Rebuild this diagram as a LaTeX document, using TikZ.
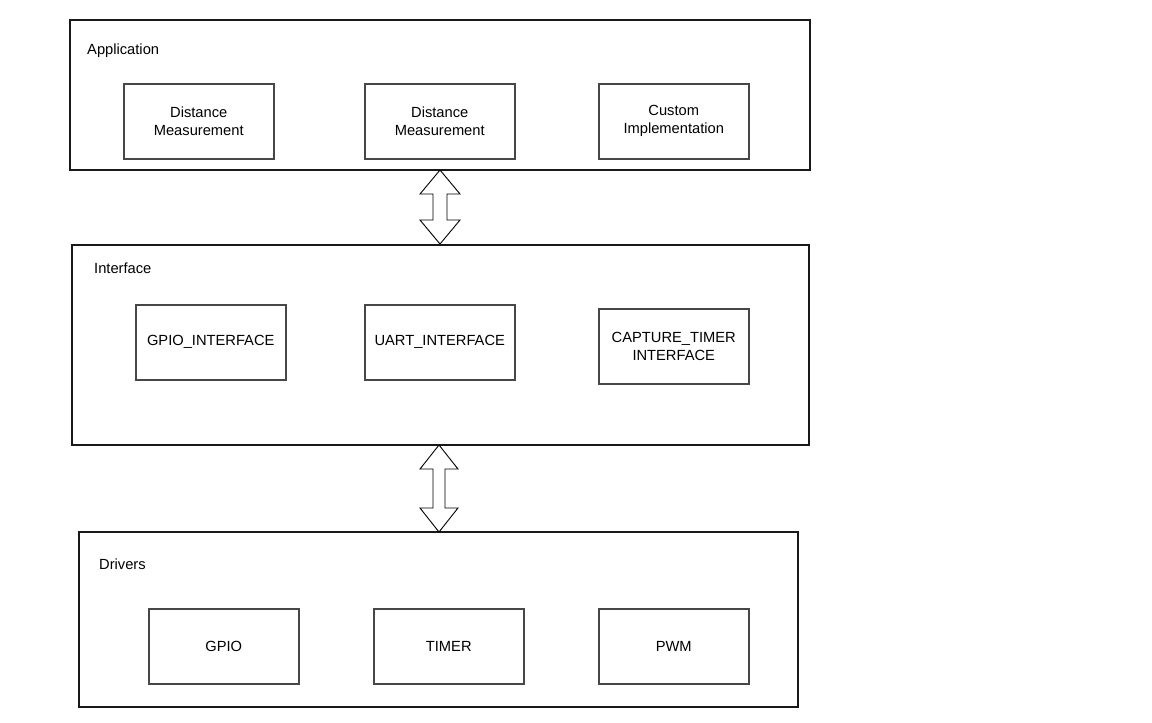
\documentclass[tikz,border=0pt]{standalone}
\usepackage{fontspec}
\setmainfont{Liberation Sans}
\usetikzlibrary{calc}
\begin{document}
\begin{tikzpicture}[x=1pt,y=-1pt,
  every node/.style={font=\fontsize{14.7}{18}\selectfont},
  layer/.style={draw=black!90, line width=1.1pt},
  block/.style={draw=black!72, line width=1.5pt, minimum width=150, minimum height=75,
    align=center, inner sep=0pt, anchor=north west},
  title/.style={anchor=west, inner sep=0pt},
  bigarrow/.style={draw=black, fill=white, line width=0.9pt, line join=miter}]
\useasboundingbox (0,0) rectangle (1152,723);

% layers
\draw[layer] (70,20) rectangle (810,170);
\draw[layer] (72,245) rectangle (809,445);
\draw[layer] (79,532) rectangle (798,707);

\node[title] (tapp) at (87,51) {Application};
\node[title] (tif)  at (94,268) {Interface};
\node[title] (tdrv) at (99,564) {Drivers};

% application blocks
\node[block] (dm1) at (123,83) {Distance\\Measurement};
\node[block] (dm2) at (364,83) {Distance\\Measurement};
\node[block] (ci)  at (598,83) {Custom\\Implementation};

% interface blocks
\node[block] (gpioif) at (135,304) {GPIO\_INTERFACE};
\node[block] (uartif) at (364,304) {UART\_INTERFACE};
\node[block] (capif)  at (598,308) {CAPTURE\_TIMER\\INTERFACE};

% driver blocks
\node[block] (gpio)  at (148,608) {GPIO};
\node[block] (timer) at (373,608) {TIMER};
\node[block] (pwm)   at (598,608) {PWM};

% two-way arrows between layers
\coordinate (a1t) at (440,170);
\coordinate (a1b) at (440,244);
\coordinate (a2t) at (439,445);
\coordinate (a2b) at (439,532);
\draw[bigarrow] (a1t) -- ++(20,24) -- ++(-13,0) -- ($(a1b)+(7,-24)$) -- ++(13,0)
  -- (a1b) -- ++(-20,-24) -- ++(13,0) -- ($(a1t)+(-7,24)$) -- ++(-13,0) -- cycle;
\draw[bigarrow] (a2t) -- ++(19,24) -- ++(-13,0) -- ($(a2b)+(6,-24)$) -- ++(13,0)
  -- (a2b) -- ++(-19,-24) -- ++(13,0) -- ($(a2t)+(-6,24)$) -- ++(-13,0) -- cycle;
\end{tikzpicture}
\end{document}
